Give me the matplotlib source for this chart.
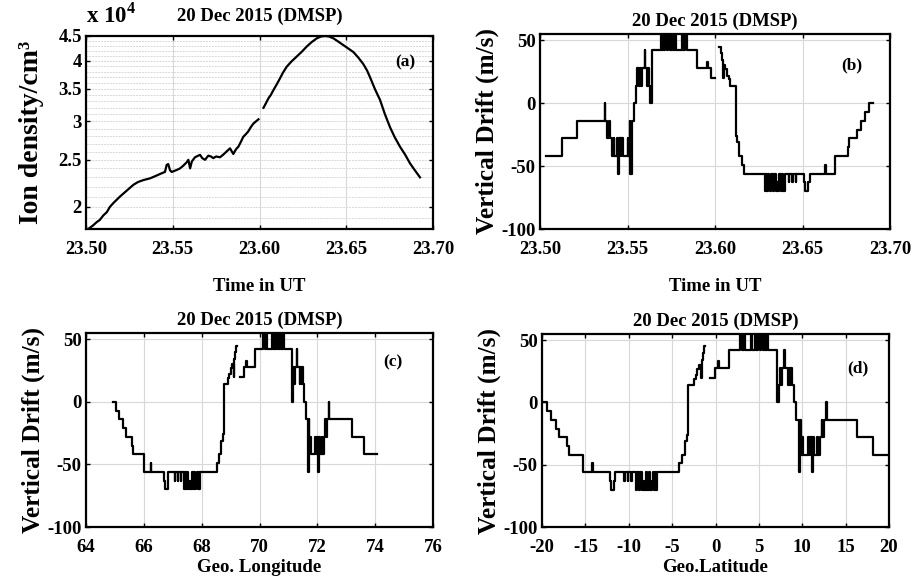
import numpy as np
import matplotlib
matplotlib.use("Agg")
import matplotlib.pyplot as plt
from matplotlib.ticker import FixedLocator, FixedFormatter, NullFormatter

plt.rcParams['font.family'] = ['Liberation Serif', 'DejaVu Serif']
plt.rcParams['font.weight'] = 'bold'
plt.rcParams['axes.unicode_minus'] = False
plt.rcParams['mathtext.fontset'] = 'custom'
plt.rcParams['mathtext.rm'] = 'Liberation Serif:bold'
plt.rcParams['mathtext.bf'] = 'Liberation Serif:bold'

TITLE = "20 Dec 2015 (DMSP)"

# ---- Panel (a): ion density (x 10^4 /cm^3) vs time (UT) ----
ion_time = [23.5013, 23.5040, 23.5062, 23.5080, 23.5100, 23.5120, 23.5138, 23.5160,
            23.5196, 23.5235, 23.5273, 23.5300, 23.5330, 23.5350, 23.5370, 23.5407,
            23.5430, 23.5455, 23.5465, 23.5474, 23.5484, 23.5494, 23.5520, 23.5542,
            23.5560, 23.5580, 23.5590, 23.5600, 23.5610, 23.5628, 23.5657, 23.5670,
            23.5686, 23.5705, 23.5720, 23.5734, 23.5750, 23.5772, 23.5790, 23.5810,
            23.5830, 23.5849, 23.5865, 23.5878, 23.5892, 23.5907, 23.5920, 23.5935,
            23.5950, 23.5965, 23.5994, 23.6008,
            23.6023, 23.6035, 23.6052, 23.6065, 23.6080, 23.6100, 23.6118, 23.6135,
            23.6157, 23.6185, 23.6214, 23.6245, 23.6272, 23.6300, 23.6330, 23.6355,
            23.6378, 23.6400, 23.6426, 23.6455, 23.6483, 23.6512, 23.6541, 23.6570,
            23.6598, 23.6620, 23.6637, 23.6665, 23.6695, 23.6722, 23.6752, 23.6780,
            23.6810, 23.6840, 23.6867, 23.6895, 23.6925]
ion_density = [1.80, 1.83, 1.86, 1.88, 1.92, 1.95, 2.00, 2.04,
               2.10, 2.16, 2.22, 2.25, 2.27, 2.28, 2.29, 2.32,
               2.34, 2.36, 2.44, 2.45, 2.38, 2.36, 2.38, 2.40,
               2.43, 2.47, 2.50, 2.40, 2.48, 2.53, 2.56, 2.52,
               2.50, 2.55, 2.54, 2.52, 2.54, 2.53, 2.56, 2.60,
               2.64, 2.57, 2.63, 2.66, 2.72, 2.79, 2.82, 2.86,
               2.92, 2.97, 3.03, np.nan,
               3.20, 3.26, 3.35, 3.40, 3.48, 3.58, 3.68, 3.78,
               3.89, 3.99, 4.08, 4.18, 4.28, 4.37, 4.45, 4.49,
               4.50, 4.49, 4.45, 4.38, 4.31, 4.24, 4.17, 4.06,
               3.94, 3.82, 3.70, 3.50, 3.32, 3.11, 2.92, 2.78,
               2.66, 2.56, 2.46, 2.38, 2.30]

# ---- Vertical drift (m/s) vs time (UT), step data ----
drift_time = [23.5037, 23.5124, 23.5210, 23.5371, 23.5374, 23.5385, 23.5395, 23.5400,
              23.5410, 23.5420, 23.5425, 23.5440, 23.5448, 23.5453, 23.5460, 23.5465,
              23.5475, 23.5500, 23.5505, 23.5512, 23.5517, 23.5524, 23.5536, 23.5548,
              23.5557, 23.5565, 23.5569, 23.5578, 23.5582, 23.5598, 23.5602, 23.5612,
              23.5619, 23.5623, 23.5629, 23.5638, 23.5690, 23.5696, 23.5703, 23.5709,
              23.5716, 23.5724, 23.5733, 23.5740, 23.5752, 23.5758, 23.5773, 23.5779,
              23.5812, 23.5818, 23.5826, 23.5840, 23.5899, 23.5952, 23.5960, 23.5975,
              23.6000, 23.6002,
              23.6025, 23.6032, 23.6040, 23.6046, 23.6049, 23.6058, 23.6068, 23.6078,
              23.6088, 23.6120, 23.6127, 23.6135, 23.6152, 23.6165, 23.6286, 23.6291,
              23.6297, 23.6303, 23.6309, 23.6315, 23.6322, 23.6330, 23.6338, 23.6346,
              23.6354, 23.6361, 23.6368, 23.6376, 23.6384, 23.6391, 23.6398, 23.6420,
              23.6424, 23.6440, 23.6444, 23.6460, 23.6464, 23.6510, 23.6515, 23.6532,
              23.6540, 23.6630, 23.6636, 23.6686, 23.6760, 23.6768, 23.6812, 23.6832,
              23.6858, 23.6880, 23.6905]
drift_value = [-42, -28, -14, 0, -14, -28, -14, -28,
               -42, -28, -42, -28, -56, -28, -42, -28,
               -42, -28, -42, -14, -56, -14, 0, 14,
               28, 14, 28, 14, 28, 42, 28, 14,
               28, 14, 0, 42, 56, 42, 56, 42,
               56, 42, 56, 42, 56, 42, 56, 42,
               56, 42, 56, 42, 28, 33, 28, 20,
               20, np.nan,
               45, 40, 34, 20, 30, 27, 22, 19,
               14, -26, -31, -42, -49, -56, -70, -56,
               -70, -56, -63, -70, -56, -70, -56, -70,
               -63, -70, -56, -70, -56, -70, -56, -63,
               -56, -63, -56, -63, -56, -63, -70, -63,
               -56, -49, -56, -42, -35, -28, -21, -14,
               -7, 0, 0]

# ---- Satellite track (time -> geographic longitude / latitude) ----
track_time = [23.5037, 23.6905]
track_lon = [74.05, 64.92]
track_lat = [20.0, -20.0]

drift_lon = np.interp(drift_time, track_time, track_lon)
drift_lat = np.interp(drift_time, track_time, track_lat)

W, H = 921, 581
fig = plt.figure(figsize=(W / 100, H / 100), dpi=100)

def box(l, t, r, b):
    return [l / W, 1 - b / H, (r - l) / W, (b - t) / H]

ax_a = fig.add_axes(box(86, 36, 433, 229))
ax_b = fig.add_axes(box(540, 34, 890, 229))
ax_c = fig.add_axes(box(86, 333, 433, 527))
ax_d = fig.add_axes(box(542, 334, 889, 527))

TICK_FS = 13.5
LABEL_FS = 18.3
GRID = dict(color='#d8d8d8', linewidth=0.8)

def style(ax, title_pad=6):
    for s in ax.spines.values():
        s.set_linewidth(1.6)
    ax.tick_params(direction='in', length=3, width=1, labelsize=TICK_FS,
                   top=True, right=True)
    ax.tick_params(axis='x', pad=9)
    ax.tick_params(axis='y', pad=3)
    ax.set_title(TITLE, fontsize=13.5, fontweight='bold', pad=title_pad)

# Panel (a)
ax_a.plot(ion_time, ion_density, color='black', lw=1.6)
ax_a.set_yscale('log')
ax_a.set_ylim(1.8, 4.5)
ax_a.set_xlim(23.50, 23.70)
ax_a.yaxis.set_major_locator(FixedLocator([2, 2.5, 3, 3.5, 4, 4.5]))
ax_a.yaxis.set_major_formatter(FixedFormatter(['2', '2.5', '3', '3.5', '4', '4.5']))
ax_a.yaxis.set_minor_locator(FixedLocator(np.arange(1.8, 4.55, 0.1)))
ax_a.yaxis.set_minor_formatter(NullFormatter())
ax_a.tick_params(axis='y', which='minor', length=0)
ax_a.set_xticks([23.50, 23.55, 23.60, 23.65, 23.70])
ax_a.set_xticklabels(['23.50', '23.55', '23.60', '23.65', '23.70'])
ax_a.grid(True, axis='x', which='major', **GRID)
ax_a.grid(True, axis='y', which='both', color='#d8d8d8', linewidth=0.7, linestyle=(0, (2, 1)))
style(ax_a, title_pad=11)
ax_a.set_ylabel('Ion density/cm³', fontsize=20, fontweight='bold', labelpad=10)
ax_a.set_xlabel('Time in UT', fontsize=13.5, fontweight='bold', labelpad=14)
ax_a.text(0.92, 0.865, '(a)', transform=ax_a.transAxes, fontsize=12.5, fontweight='bold',
          ha='center', va='center')
fig.text(86 / W, 1 - 15 / H, r'x 10$^{4}$', fontsize=16.5, fontweight='bold', ha='left',
         va='center')

def drift_panel(ax, x, xlim, xticks, xlabels, xlabel, letter, lpos, xlabelpad):
    ax.plot(x, drift_value, color='black', lw=1.6, drawstyle='steps-post')
    ax.set_xlim(*xlim)
    ax.set_ylim(-100, 55)
    ax.set_yticks([-100, -50, 0, 50])
    ax.set_yticklabels(['-100', '-50', '0', '50'])
    ax.set_xticks(xticks)
    ax.set_xticklabels(xlabels)
    ax.grid(True, **GRID)
    style(ax)
    ax.set_ylabel('Vertical Drift (m/s)', fontsize=LABEL_FS, fontweight='bold', labelpad=2)
    ax.set_xlabel(xlabel, fontsize=13.5, fontweight='bold', labelpad=xlabelpad)
    ax.text(lpos[0], lpos[1], letter, transform=ax.transAxes, fontsize=12.5,
            fontweight='bold', ha='center', va='center')

drift_panel(ax_b, drift_time, (23.50, 23.70), [23.50, 23.55, 23.60, 23.65, 23.70],
            ['23.50', '23.55', '23.60', '23.65', '23.70'], 'Time in UT', '(b)',
            (0.89, 0.84), 14)
drift_panel(ax_c, drift_lon, (64, 76), [64, 66, 68, 70, 72, 74, 76],
            ['64', '66', '68', '70', '72', '74', '76'], 'Geo. Longitude', '(c)',
            (0.885, 0.85), 2)
drift_panel(ax_d, drift_lat, (-20, 20), [-20, -15, -10, -5, 0, 5, 10, 15, 20],
            ['-20', '-15', '-10', '-5', '0', '5', '10', '15', '20'], 'Geo.Latitude', '(d)',
            (0.91, 0.82), 2)

fig.savefig('out.png', dpi=100)
